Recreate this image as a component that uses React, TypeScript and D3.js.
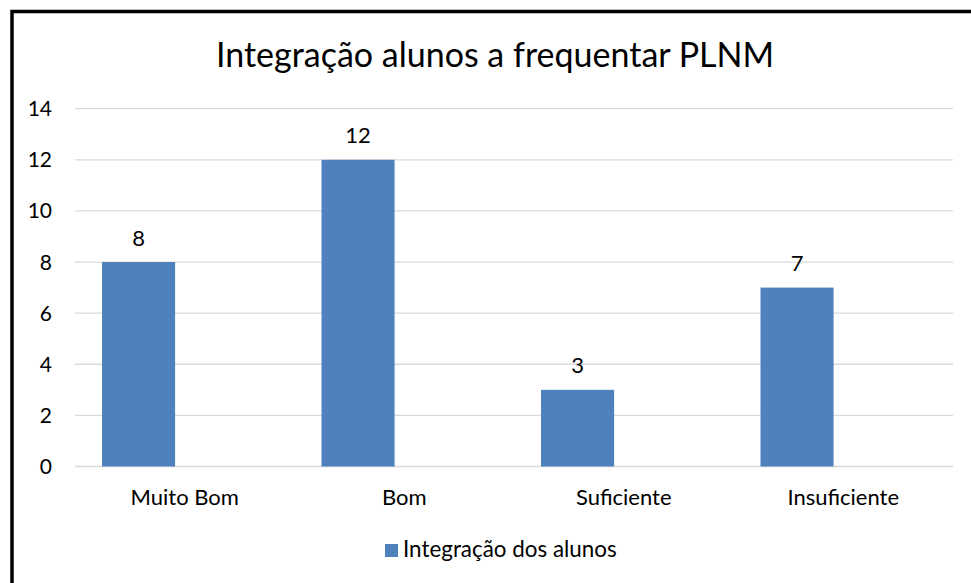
import { useRef, useEffect } from 'react'
import * as d3 from 'd3'

const categories = ['Muito Bom', 'Bom', 'Suficiente', 'Insuficiente']
const values = [8, 12, 3, 7]
const yTicks = [0, 2, 4, 6, 8, 10, 12, 14]
const seriesName = 'Integração dos alunos'
const title = 'Integração alunos a frequentar PLNM'

const W = 971
const H = 583
const FONT = 'Lato, "Noto Sans", sans-serif'

const App = () => {
  const svgRef = useRef<SVGSVGElement>(null)

  useEffect(() => {
    const svg = d3.select(svgRef.current)
    svg.selectAll('*').remove()

    const margin = { top: 108.7, left: 75, right: 18, bottom: 116.5 }
    const x = d3.scaleBand()
      .domain(categories)
      .range([margin.left, W - margin.right])
    const y = d3.scaleLinear()
      .domain([0, 14])
      .range([H - margin.bottom, margin.top])

    svg.append('rect').attr('width', W).attr('height', H).attr('fill', '#fff')

    // frame (only top & left visible in the crop)
    svg.append('path')
      .attr('d', `M12,${H} V11.5 H${W}`)
      .attr('fill', 'none')
      .attr('stroke', '#000')
      .attr('stroke-width', 3.5)

    // title
    svg.append('text')
      .attr('x', 495)
      .attr('y', 67)
      .attr('text-anchor', 'middle')
      .attr('font-family', FONT)
      .attr('font-size', 34)
      .attr('fill', '#000')
      .text(title)

    // grid lines
    svg.append('g')
      .selectAll('line')
      .data(yTicks)
      .enter()
      .append('line')
      .attr('x1', margin.left)
      .attr('x2', W - margin.right)
      .attr('y1', d => y(d))
      .attr('y2', d => y(d))
      .attr('stroke', '#d9d9d9')
      .attr('stroke-width', 1.3)

    // y labels
    svg.append('g')
      .selectAll('text')
      .data(yTicks)
      .enter()
      .append('text')
      .attr('x', 52)
      .attr('y', d => y(d) + 7.5)
      .attr('text-anchor', 'end')
      .attr('font-family', FONT)
      .attr('font-size', 21)
      .attr('fill', '#000')
      .text(d => d)

    const bw = x.bandwidth()
    const barX = (c: string) => (x(c) as number) + bw * 0.123
    const barW = bw * 0.333

    // bars
    svg.append('g')
      .selectAll('rect')
      .data(values)
      .enter()
      .append('rect')
      .attr('x', (_, i) => barX(categories[i]))
      .attr('y', d => y(d))
      .attr('width', barW)
      .attr('height', d => y(0) - y(d))
      .attr('fill', '#4f81bd')

    // value labels
    svg.append('g')
      .selectAll('text')
      .data(values)
      .enter()
      .append('text')
      .attr('x', (_, i) => barX(categories[i]) + barW / 2)
      .attr('y', d => y(d) - 16.5)
      .attr('text-anchor', 'middle')
      .attr('font-family', FONT)
      .attr('font-size', 22)
      .attr('fill', '#000')
      .text(d => d)

    // category labels
    svg.append('g')
      .selectAll('text')
      .data(categories)
      .enter()
      .append('text')
      .attr('x', d => (x(d) as number) + bw / 2)
      .attr('y', 505)
      .attr('text-anchor', 'middle')
      .attr('font-family', FONT)
      .attr('font-size', 22)
      .attr('fill', '#000')
      .text(d => d)

    // legend
    const lg = svg.append('g')
    lg.append('rect')
      .attr('x', 385)
      .attr('y', 544)
      .attr('width', 13)
      .attr('height', 13)
      .attr('fill', '#4f81bd')
    lg.append('text')
      .attr('x', 403)
      .attr('y', 557)
      .attr('font-family', FONT)
      .attr('font-size', 22.4)
      .attr('fill', '#000')
      .text(seriesName)
  }, [])

  return (
    <div style={{ position: 'fixed', left: 0, top: 0 }}>
      <svg ref={svgRef} width={W} height={H} style={{ display: 'block' }}></svg>
    </div>
  )
}

export default App
